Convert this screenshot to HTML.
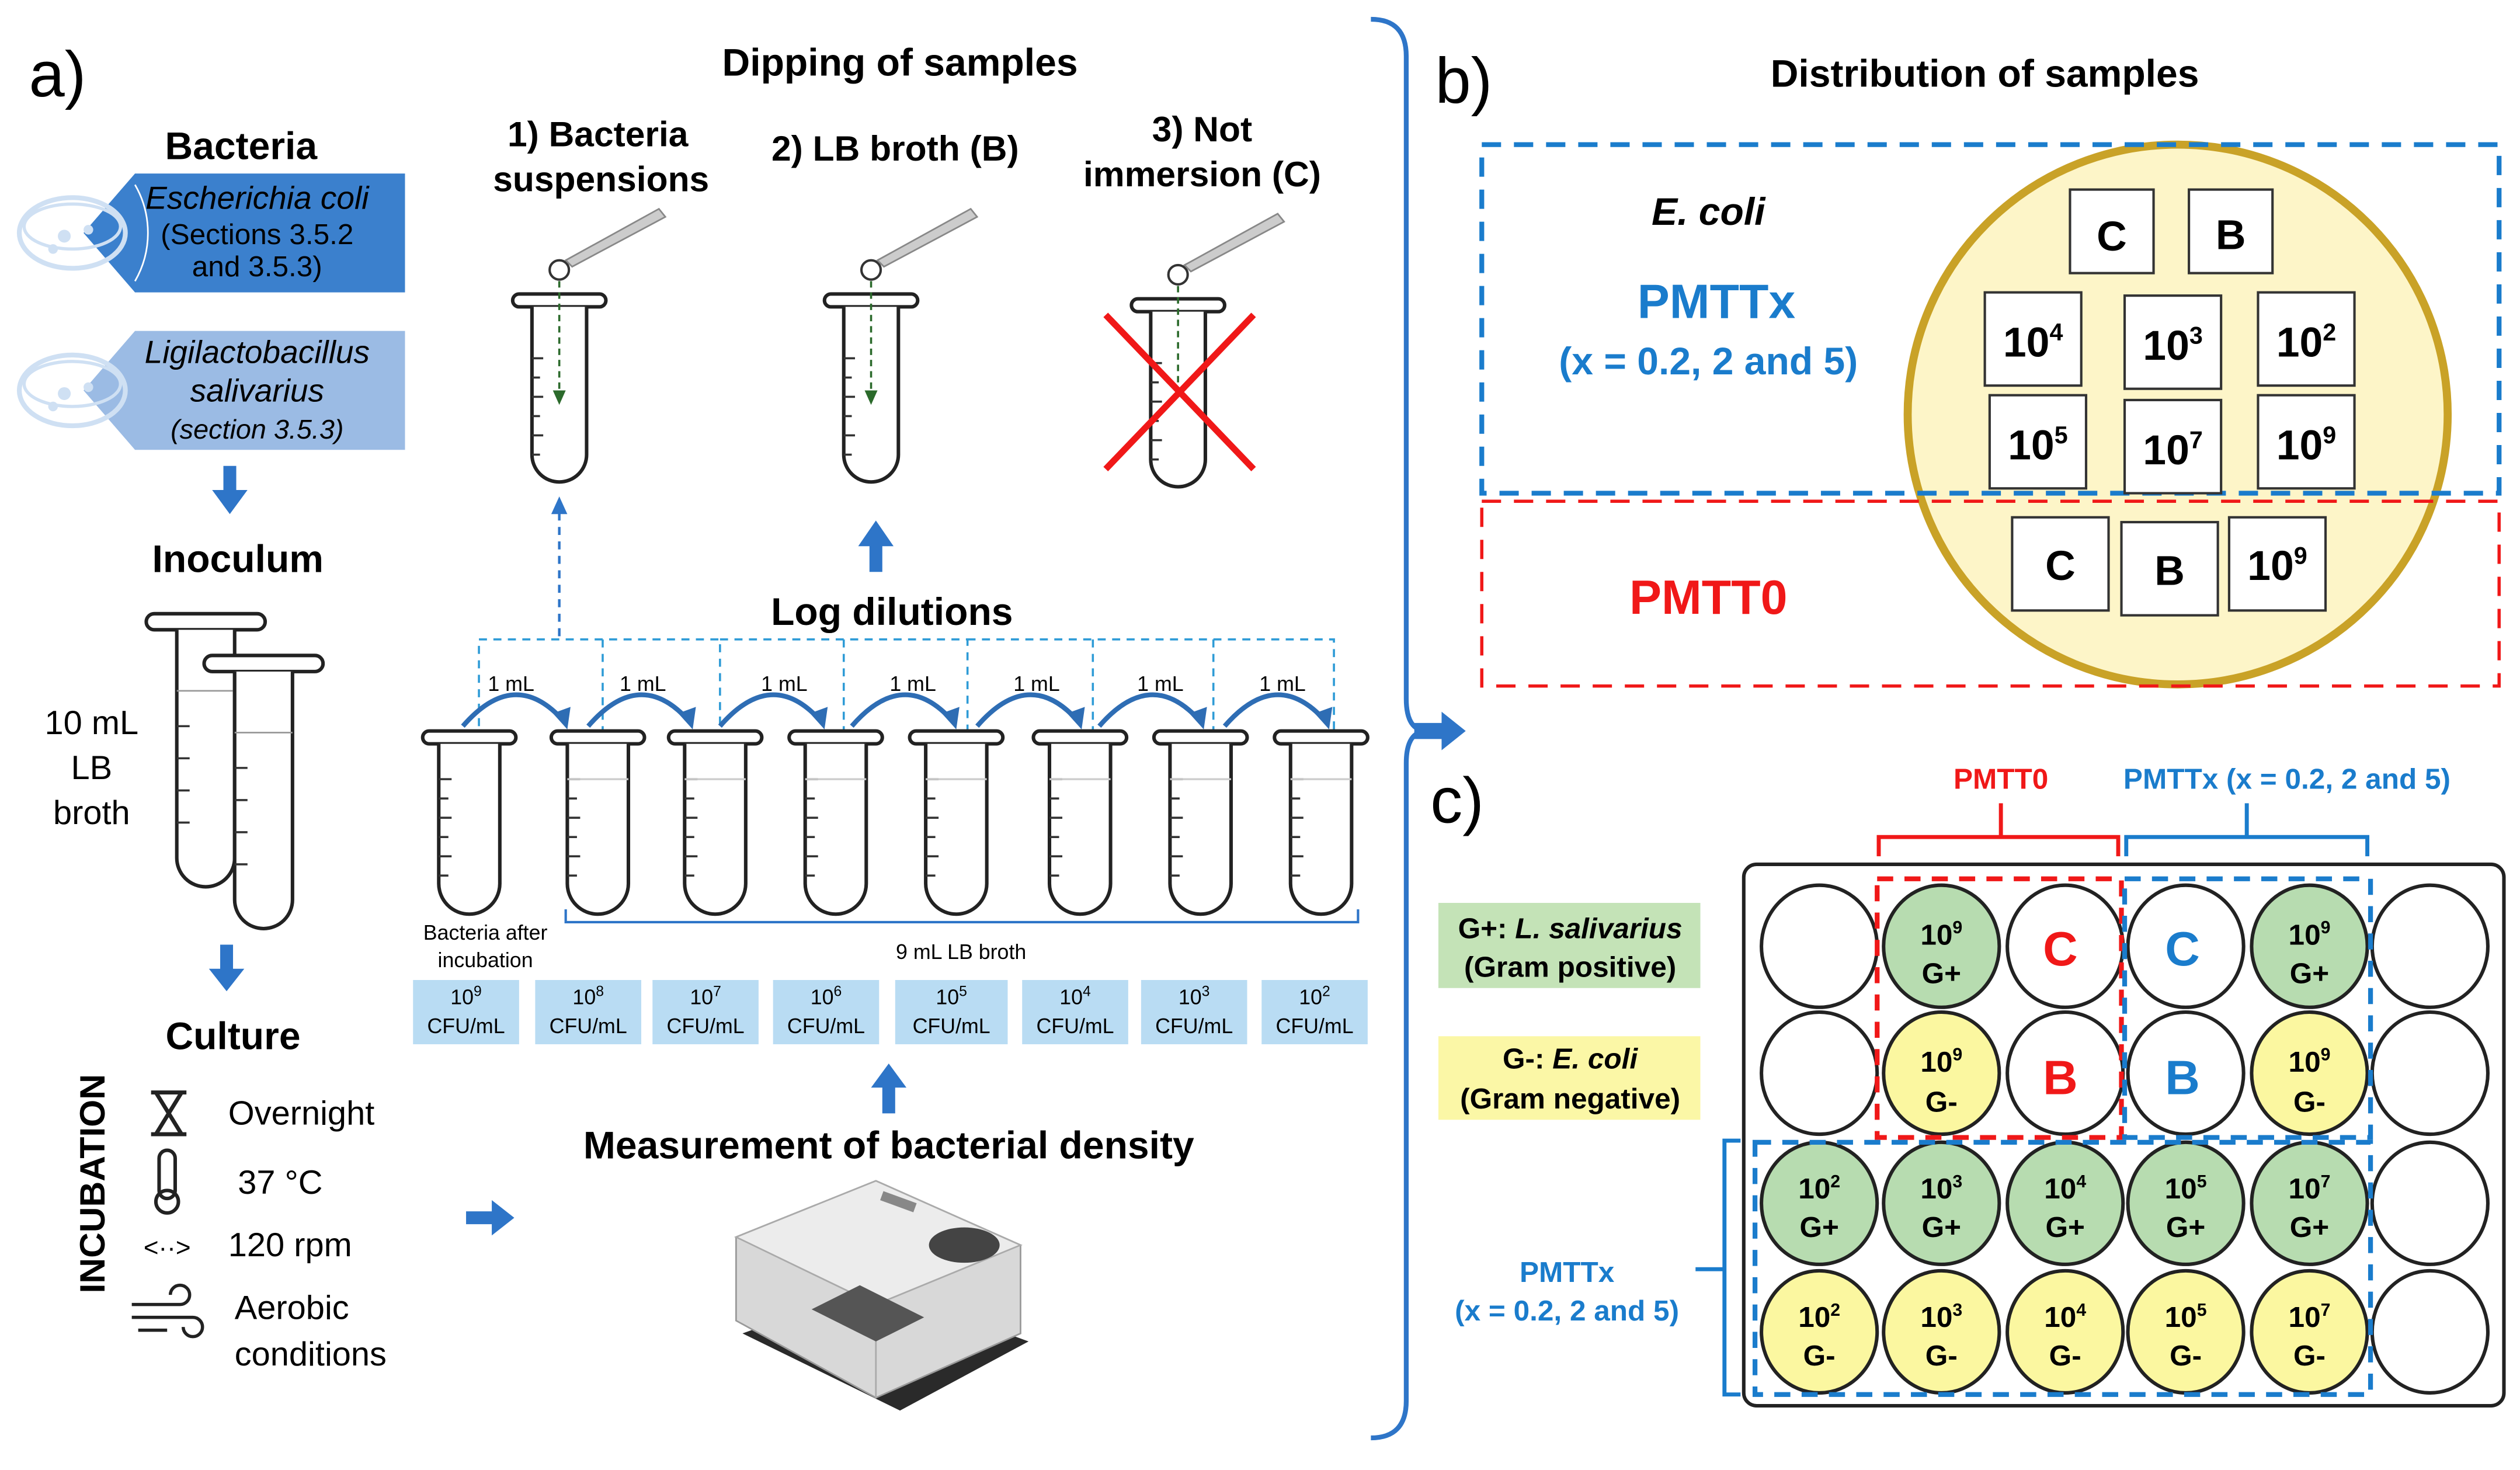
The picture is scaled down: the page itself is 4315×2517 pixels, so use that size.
<!DOCTYPE html>
<html><head><meta charset="utf-8"><style>
html,body{margin:0;padding:0;background:#fff}
svg{display:block}
text{font-family:"Liberation Sans",Arial,sans-serif}
</style></head><body>
<svg width="4315" height="2517" viewBox="0 0 1568 915" preserveAspectRatio="none" xmlns="http://www.w3.org/2000/svg">
<defs>
<g id="tube">
<rect x="-29" y="0" width="58" height="8" rx="4" fill="#fff" stroke="#222" stroke-width="2.2"/>
<path d="M-19 8 V95 A19 19 0 0 0 19 95 V8" fill="#fff" stroke="#222" stroke-width="2.2"/>
<g stroke="#333" stroke-width="1.3">
<line x1="-19" y1="30" x2="-11" y2="30"/><line x1="-19" y1="42" x2="-13" y2="42"/><line x1="-19" y1="54" x2="-11" y2="54"/><line x1="-19" y1="66" x2="-13" y2="66"/><line x1="-19" y1="78" x2="-11" y2="78"/><line x1="-19" y1="90" x2="-13" y2="90"/></g>
</g>
<g id="stube">
<rect x="-29" y="0" width="58" height="8" rx="4" fill="#fff" stroke="#222" stroke-width="2.2"/>
<path d="M-17 8 V100 A17 17 0 0 0 17 100 V8" fill="#fff" stroke="#222" stroke-width="2.2"/>
<g stroke="#333" stroke-width="1.3">
<line x1="-17" y1="40" x2="-10" y2="40"/><line x1="-17" y1="52" x2="-12" y2="52"/><line x1="-17" y1="64" x2="-10" y2="64"/><line x1="-17" y1="76" x2="-12" y2="76"/><line x1="-17" y1="88" x2="-10" y2="88"/><line x1="-17" y1="100" x2="-12" y2="100"/></g>
</g>
<g id="pip">
<circle cx="0" cy="0" r="6" fill="#fff" stroke="#333" stroke-width="1.5"/>
<path d="M4 -6 L62 -38 L66 -33 L8 -2 Z" fill="#ccc" stroke="#888" stroke-width="1"/>
</g>
<g id="dish">
<ellipse cx="40" cy="0" rx="33" ry="22" fill="none" stroke="#cfe0f3" stroke-width="3"/>
<ellipse cx="40" cy="-4" rx="30" ry="14" fill="none" stroke="#cfe0f3" stroke-width="2"/>
<circle cx="35" cy="2" r="4" fill="#cfe0f3"/><circle cx="50" cy="-2" r="3" fill="#cfe0f3"/><circle cx="28" cy="10" r="3" fill="#cfe0f3"/>
</g>
<marker id="ah" markerWidth="8" markerHeight="8" refX="4" refY="4" orient="auto"><path d="M0 0 L8 4 L0 8 Z" fill="#2e6db4"/></marker>
</defs>

<!-- a) -->
<text x="18" y="60" font-size="40">a)</text>
<text x="560" y="47" font-size="24" font-weight="bold" text-anchor="middle">Dipping  of samples</text>
<text x="150" y="99" font-size="24" font-weight="bold" text-anchor="middle">Bacteria</text>

<!-- banners -->
<path d="M84 108 H252 V182 H84 L52 145 Z" fill="#3b80cd"/>
<use href="#dish" x="5" y="145"/>
<path d="M84 115 A60 60 0 0 1 84 175" fill="none" stroke="#fff" stroke-width="1"/>
<text x="160" y="130" font-size="20" font-style="italic" text-anchor="middle">Escherichia coli</text>
<text x="160" y="152" font-size="18" text-anchor="middle">(Sections 3.5.2</text>
<text x="160" y="172" font-size="18" text-anchor="middle">and 3.5.3)</text>

<path d="M84 206 H252 V280 H84 L52 243 Z" fill="#9bbbe4"/>
<use href="#dish" x="5" y="243"/>
<text x="160" y="226" font-size="20" font-style="italic" text-anchor="middle">Ligilactobacillus</text>
<text x="160" y="250" font-size="20" font-style="italic" text-anchor="middle">salivarius</text>
<text x="160" y="273" font-size="17" font-style="italic" text-anchor="middle">(section 3.5.3)</text>

<path d="M139 290 H147 V305 H154 L143 320 L132 305 H139 Z" fill="#2e75c8"/>
<text x="148" y="356" font-size="24" font-weight="bold" text-anchor="middle">Inoculum</text>

<!-- inoculum tubes -->
<g transform="translate(128,382)"><rect x="-37" y="0" width="74" height="10" rx="5" fill="#fff" stroke="#222" stroke-width="2.2"/><path d="M-18 10 V152 A18 18 0 0 0 18 152 V10" fill="#fff" stroke="#222" stroke-width="2.2"/><line x1="-18" y1="48" x2="18" y2="48" stroke="#999"/><g stroke="#333" stroke-width="1.3"><line x1="-18" y1="70" x2="-10" y2="70"/><line x1="-18" y1="90" x2="-10" y2="90"/><line x1="-18" y1="110" x2="-10" y2="110"/><line x1="-18" y1="130" x2="-10" y2="130"/></g></g>
<g transform="translate(164,408)"><rect x="-37" y="0" width="74" height="10" rx="5" fill="#fff" stroke="#222" stroke-width="2.2"/><path d="M-18 10 V152 A18 18 0 0 0 18 152 V10" fill="#fff" stroke="#222" stroke-width="2.2"/><line x1="-18" y1="48" x2="18" y2="48" stroke="#999"/><g stroke="#333" stroke-width="1.3"><line x1="-18" y1="70" x2="-10" y2="70"/><line x1="-18" y1="90" x2="-10" y2="90"/><line x1="-18" y1="110" x2="-10" y2="110"/><line x1="-18" y1="130" x2="-10" y2="130"/></g></g>
<text x="57" y="457" font-size="21" text-anchor="middle">10 mL</text>
<text x="57" y="485" font-size="21" text-anchor="middle">LB</text>
<text x="57" y="513" font-size="21" text-anchor="middle">broth</text>

<path d="M137 588 H145 V603 H152 L141 617 L130 603 H137 Z" fill="#2e75c8"/>
<text x="145" y="653" font-size="24" font-weight="bold" text-anchor="middle">Culture</text>
<text transform="translate(65,805) rotate(-90)" font-size="22" font-weight="bold">INCUBATION</text>
<!-- icons -->
<path d="M94 680 H116 M94 706 H116 M97 680 L113 706 M113 680 L97 706" stroke="#222" stroke-width="2.5" fill="none"/>
<rect x="99" y="716" width="10" height="30" rx="5" fill="none" stroke="#222" stroke-width="2.2"/><circle cx="104" cy="748" r="7" fill="none" stroke="#222" stroke-width="2.2"/>
<text x="104" y="782" font-size="16" text-anchor="middle">&lt;··&gt;</text>
<path d="M82 812 H112 A6 6 0 1 0 106 806 M82 820 H120 A6 6 0 1 1 114 826 M86 828 H104" stroke="#222" stroke-width="2" fill="none"/>
<text x="142" y="700" font-size="21">Overnight</text>
<text x="148" y="743" font-size="21">37 °C</text>
<text x="142" y="782" font-size="21">120 rpm</text>
<text x="146" y="821" font-size="21">Aerobic</text>
<text x="146" y="850" font-size="21">conditions</text>
<path d="M290 754 H306 V747 L320 758 L306 769 V762 H290 Z" fill="#2e75c8"/>

<!-- dipping -->
<text x="372" y="91" font-size="22" font-weight="bold" text-anchor="middle">1) Bacteria</text>
<text x="374" y="119" font-size="22" font-weight="bold" text-anchor="middle">suspensions</text>
<text x="557" y="100" font-size="22" font-weight="bold" text-anchor="middle">2) LB broth (B)</text>
<text x="748" y="88" font-size="22" font-weight="bold" text-anchor="middle">3) Not</text>
<text x="748" y="116" font-size="22" font-weight="bold" text-anchor="middle">immersion (C)</text>
<use href="#stube" x="348" y="183"/><use href="#pip" x="348" y="168"/>
<use href="#stube" x="542" y="183"/><use href="#pip" x="542" y="168"/>
<use href="#stube" x="733" y="186"/><use href="#pip" x="733" y="171"/>
<line x1="348" y1="175" x2="348" y2="245" stroke="#2b6a2b" stroke-dasharray="4 3" stroke-width="1.3"/><path d="M344 243 L348 252 L352 243Z" fill="#2b6a2b"/>
<line x1="542" y1="175" x2="542" y2="245" stroke="#2b6a2b" stroke-dasharray="4 3" stroke-width="1.3"/><path d="M538 243 L542 252 L546 243Z" fill="#2b6a2b"/>
<line x1="733" y1="178" x2="733" y2="248" stroke="#2b6a2b" stroke-dasharray="4 3" stroke-width="1.3"/>
<path d="M688 196 L780 292 M780 196 L688 292" stroke="#f01818" stroke-width="4"/>
<line x1="348" y1="396" x2="348" y2="318" stroke="#2e75c8" stroke-width="1.6" stroke-dasharray="5 4"/><path d="M343 320 L348 309 L353 320Z" fill="#2e75c8"/>
<path d="M541 356 V340 H534 L545 324 L556 340 H549 V356 Z" fill="#2e75c8"/>

<text x="555" y="389" font-size="24" font-weight="bold" text-anchor="middle">Log dilutions</text>
<g stroke="#2e9bd6" stroke-width="1.3" stroke-dasharray="5 4" fill="none">
<path d="M298 470 V398 H448 V470"/><path d="M448 398 H602 V470"/><path d="M602 398 H755 V470"/><path d="M755 398 H830 V470"/>
<path d="M680 398 V470"/><path d="M375 398 V470"/><path d="M525 398 V470"/>
</g>
<use href="#tube" x="292" y="455"/><use href="#tube" x="372" y="455"/><use href="#tube" x="445" y="455"/><use href="#tube" x="520" y="455"/>
<use href="#tube" x="595" y="455"/><use href="#tube" x="672" y="455"/><use href="#tube" x="747" y="455"/><use href="#tube" x="822" y="455"/>
<g stroke="#ccc" stroke-width="1.2"><line x1="353" y1="485" x2="391" y2="485"/><line x1="426" y1="485" x2="464" y2="485"/><line x1="501" y1="485" x2="539" y2="485"/><line x1="576" y1="485" x2="614" y2="485"/><line x1="653" y1="485" x2="691" y2="485"/><line x1="728" y1="485" x2="766" y2="485"/><line x1="803" y1="485" x2="841" y2="485"/></g>
<g fill="none" stroke="#2e6db4" stroke-width="3">
<path d="M288 452 Q320 415 350 448"/><path d="M366 452 Q398 415 428 448"/><path d="M448 452 Q480 415 510 448"/><path d="M530 452 Q562 415 592 448"/><path d="M608 452 Q640 415 670 448"/><path d="M684 452 Q716 415 746 448"/><path d="M762 452 Q794 415 824 448"/>
</g>
<g fill="#2e6db4"><path d="M344 444 L353 454 L355 440Z"/><path d="M422 444 L431 454 L433 440Z"/><path d="M504 444 L513 454 L515 440Z"/><path d="M586 444 L595 454 L597 440Z"/><path d="M664 444 L673 454 L675 440Z"/><path d="M740 444 L749 454 L751 440Z"/><path d="M818 444 L827 454 L829 440Z"/></g>
<g font-size="13" text-anchor="middle"><text x="318" y="430">1 mL</text><text x="400" y="430">1 mL</text><text x="488" y="430">1 mL</text><text x="568" y="430">1 mL</text><text x="645" y="430">1 mL</text><text x="722" y="430">1 mL</text><text x="798" y="430">1 mL</text></g>
<text x="302" y="585" font-size="13" text-anchor="middle">Bacteria after</text>
<text x="302" y="602" font-size="13" text-anchor="middle">incubation</text>
<path d="M352 566 V574 H845 V566" fill="none" stroke="#2e75c8" stroke-width="1.5"/>
<text x="598" y="597" font-size="13" text-anchor="middle">9 mL LB broth</text>
<g fill="#b9dcf3">
<rect x="257" y="610" width="66" height="40"/><rect x="333" y="610" width="66" height="40"/><rect x="406" y="610" width="66" height="40"/><rect x="481" y="610" width="66" height="40"/><rect x="557" y="610" width="70" height="40"/><rect x="636" y="610" width="66" height="40"/><rect x="710" y="610" width="66" height="40"/><rect x="785" y="610" width="66" height="40"/></g>
<g font-size="13" text-anchor="middle">
<text x="290" y="625">10<tspan font-size="9" dy="-5">9</tspan></text><text x="290" y="643">CFU/mL</text>
<text x="366" y="625">10<tspan font-size="9" dy="-5">8</tspan></text><text x="366" y="643">CFU/mL</text>
<text x="439" y="625">10<tspan font-size="9" dy="-5">7</tspan></text><text x="439" y="643">CFU/mL</text>
<text x="514" y="625">10<tspan font-size="9" dy="-5">6</tspan></text><text x="514" y="643">CFU/mL</text>
<text x="592" y="625">10<tspan font-size="9" dy="-5">5</tspan></text><text x="592" y="643">CFU/mL</text>
<text x="669" y="625">10<tspan font-size="9" dy="-5">4</tspan></text><text x="669" y="643">CFU/mL</text>
<text x="743" y="625">10<tspan font-size="9" dy="-5">3</tspan></text><text x="743" y="643">CFU/mL</text>
<text x="818" y="625">10<tspan font-size="9" dy="-5">2</tspan></text><text x="818" y="643">CFU/mL</text>
</g>
<path d="M549 693 V677 H542 L553 662 L564 677 H557 V693 Z" fill="#2e75c8"/>
<text x="553" y="721" font-size="24" font-weight="bold" text-anchor="middle">Measurement of bacterial density</text>
<!-- plate reader -->
<path d="M462 830 L560 878 L640 835 L545 800 Z" fill="#2a2a2a"/>
<path d="M458 770 L545 735 L635 775 L635 830 L545 870 L458 822 Z" fill="#d8d8d8" stroke="#999"/>
<path d="M458 770 L545 812 L635 775 L545 735 Z" fill="#ececec" stroke="#aaa"/>
<path d="M545 812 L545 870" stroke="#aaa"/>
<ellipse cx="600" cy="775" rx="22" ry="11" fill="#444"/>
<path d="M505 815 L545 835 L575 820 L535 800 Z" fill="#555"/>
<rect x="548" y="745" width="22" height="6" fill="#888" transform="rotate(20 559 748)"/>

<!-- big bracket -->
<path d="M853 12 Q875 12 875 35 V435 Q875 455 888 455 Q875 455 875 475 V872 Q875 895 853 895" fill="none" stroke="#2e75c8" stroke-width="3"/>
<path d="M880 450 H897 V443 L912 455 L897 467 V460 H880 Z" fill="#2e75c8"/>

<!-- b) -->
<text x="893" y="64" font-size="40">b)</text>
<text x="1235" y="54" font-size="24" font-weight="bold" text-anchor="middle">Distribution  of samples</text>
<circle cx="1355" cy="258" r="168" fill="#fdf5c8" stroke="#c9a227" stroke-width="5"/>
<rect x="922" y="90" width="633" height="217" fill="none" stroke="#1a7ccc" stroke-width="3" stroke-dasharray="12 8"/>
<rect x="922" y="312" width="633" height="115" fill="none" stroke="#f01818" stroke-width="2" stroke-dasharray="12 8"/>
<text x="1063" y="140" font-size="24" font-weight="bold" font-style="italic" text-anchor="middle">E. coli</text>
<text x="1068" y="198" font-size="30" font-weight="bold" fill="#1a7ccc" text-anchor="middle">PMTTx</text>
<text x="1063" y="233" font-size="24" font-weight="bold" fill="#1a7ccc" text-anchor="middle">(x = 0.2, 2 and 5)</text>
<text x="1063" y="382" font-size="30" font-weight="bold" fill="#f01818" text-anchor="middle">PMTT0</text>
<g fill="#fff" stroke="#333" stroke-width="1.5">
<rect x="1288" y="118" width="52" height="52"/><rect x="1362" y="118" width="52" height="52"/>
<rect x="1235" y="182" width="60" height="58"/><rect x="1322" y="184" width="60" height="58"/><rect x="1405" y="182" width="60" height="58"/>
<rect x="1238" y="246" width="60" height="58"/><rect x="1322" y="249" width="60" height="58"/><rect x="1405" y="246" width="60" height="58"/>
<rect x="1252" y="322" width="60" height="58"/><rect x="1320" y="325" width="60" height="58"/><rect x="1387" y="322" width="60" height="58"/>
</g>
<g font-size="26" font-weight="bold" text-anchor="middle">
<text x="1314" y="156">C</text><text x="1388" y="155">B</text>
<text x="1265" y="222">10<tspan font-size="15" dy="-10">4</tspan></text>
<text x="1352" y="224">10<tspan font-size="15" dy="-10">3</tspan></text>
<text x="1435" y="222">10<tspan font-size="15" dy="-10">2</tspan></text>
<text x="1268" y="286">10<tspan font-size="15" dy="-10">5</tspan></text>
<text x="1352" y="289">10<tspan font-size="15" dy="-10">7</tspan></text>
<text x="1435" y="286">10<tspan font-size="15" dy="-10">9</tspan></text>
<text x="1282" y="361">C</text><text x="1350" y="364">B</text>
<text x="1417" y="361">10<tspan font-size="15" dy="-10">9</tspan></text>
</g>

<!-- c) -->
<text x="890" y="512" font-size="40">c)</text>
<text x="1245" y="491" font-size="18" font-weight="bold" fill="#f01818" text-anchor="middle">PMTT0</text>
<text x="1423" y="491" font-size="18" font-weight="bold" fill="#1a7ccc" text-anchor="middle">PMTTx (x = 0.2, 2 and 5)</text>
<path d="M1169 533 V521 H1318 V533 M1245 521 V500" fill="none" stroke="#f01818" stroke-width="2.5"/>
<path d="M1323 533 V521 H1473 V533 M1398 521 V500" fill="none" stroke="#1a7ccc" stroke-width="2.5"/>
<rect x="1085" y="538" width="473" height="337" rx="8" fill="#fff" stroke="#222" stroke-width="2.2"/>
<rect x="895" y="562" width="163" height="53" fill="#c4e3b7"/>
<rect x="895" y="645" width="163" height="52" fill="#fbf7a6"/>
<g font-size="18" font-weight="bold" text-anchor="middle">
<text x="977" y="584">G+: <tspan font-style="italic">L. salivarius</tspan></text><text x="977" y="608">(Gram positive)</text>
<text x="977" y="665">G-: <tspan font-style="italic">E. coli</tspan></text><text x="977" y="690">(Gram negative)</text>
</g>
<path d="M1083 710 H1073 V868 H1083 M1073 790 H1055" fill="none" stroke="#1a7ccc" stroke-width="2.5"/>
<text x="975" y="798" font-size="18" font-weight="bold" fill="#1a7ccc" text-anchor="middle">PMTTx</text>
<text x="975" y="822" font-size="18" font-weight="bold" fill="#1a7ccc" text-anchor="middle">(x = 0.2, 2 and 5)</text>

<g stroke="#222" stroke-width="2.2">
<ellipse cx="1132" cy="589" rx="36" ry="38" fill="#fff"/><ellipse cx="1208" cy="589" rx="36" ry="38" fill="#b7dcb0"/><ellipse cx="1285" cy="589" rx="36" ry="38" fill="#fff"/><ellipse cx="1360" cy="589" rx="36" ry="38" fill="#fff"/><ellipse cx="1437" cy="589" rx="36" ry="38" fill="#b7dcb0"/><ellipse cx="1512" cy="589" rx="36" ry="38" fill="#fff"/>
<ellipse cx="1132" cy="668" rx="36" ry="38" fill="#fff"/><ellipse cx="1208" cy="668" rx="36" ry="38" fill="#fbf7a0"/><ellipse cx="1285" cy="668" rx="36" ry="38" fill="#fff"/><ellipse cx="1360" cy="668" rx="36" ry="38" fill="#fff"/><ellipse cx="1437" cy="668" rx="36" ry="38" fill="#fbf7a0"/><ellipse cx="1512" cy="668" rx="36" ry="38" fill="#fff"/>
<ellipse cx="1132" cy="749" rx="36" ry="38" fill="#b7dcb0"/><ellipse cx="1208" cy="749" rx="36" ry="38" fill="#b7dcb0"/><ellipse cx="1285" cy="749" rx="36" ry="38" fill="#b7dcb0"/><ellipse cx="1360" cy="749" rx="36" ry="38" fill="#b7dcb0"/><ellipse cx="1437" cy="749" rx="36" ry="38" fill="#b7dcb0"/><ellipse cx="1512" cy="749" rx="36" ry="38" fill="#fff"/>
<ellipse cx="1132" cy="829" rx="36" ry="38" fill="#fbf7a0"/><ellipse cx="1208" cy="829" rx="36" ry="38" fill="#fbf7a0"/><ellipse cx="1285" cy="829" rx="36" ry="38" fill="#fbf7a0"/><ellipse cx="1360" cy="829" rx="36" ry="38" fill="#fbf7a0"/><ellipse cx="1437" cy="829" rx="36" ry="38" fill="#fbf7a0"/><ellipse cx="1512" cy="829" rx="36" ry="38" fill="#fff"/>
</g>
<rect x="1168" y="547" width="152" height="161" fill="none" stroke="#f01818" stroke-width="3" stroke-dasharray="10 7"/>
<rect x="1322" y="547" width="153" height="161" fill="none" stroke="#1a7ccc" stroke-width="3" stroke-dasharray="10 7"/>
<rect x="1092" y="711" width="383" height="157" fill="none" stroke="#1a7ccc" stroke-width="3" stroke-dasharray="10 7"/>
<g font-size="18" font-weight="bold" text-anchor="middle">
<text x="1208" y="588">10<tspan font-size="11" dy="-7">9</tspan></text><text x="1208" y="612" dy="0">G+</text>
<text x="1437" y="588">10<tspan font-size="11" dy="-7">9</tspan></text><text x="1437" y="612">G+</text>
<text x="1208" y="667">10<tspan font-size="11" dy="-7">9</tspan></text><text x="1208" y="692">G-</text>
<text x="1437" y="667">10<tspan font-size="11" dy="-7">9</tspan></text><text x="1437" y="692">G-</text>
<text x="1132" y="746">10<tspan font-size="11" dy="-7">2</tspan></text><text x="1132" y="770">G+</text>
<text x="1208" y="746">10<tspan font-size="11" dy="-7">3</tspan></text><text x="1208" y="770">G+</text>
<text x="1285" y="746">10<tspan font-size="11" dy="-7">4</tspan></text><text x="1285" y="770">G+</text>
<text x="1360" y="746">10<tspan font-size="11" dy="-7">5</tspan></text><text x="1360" y="770">G+</text>
<text x="1437" y="746">10<tspan font-size="11" dy="-7">7</tspan></text><text x="1437" y="770">G+</text>
<text x="1132" y="826">10<tspan font-size="11" dy="-7">2</tspan></text><text x="1132" y="850">G-</text>
<text x="1208" y="826">10<tspan font-size="11" dy="-7">3</tspan></text><text x="1208" y="850">G-</text>
<text x="1285" y="826">10<tspan font-size="11" dy="-7">4</tspan></text><text x="1285" y="850">G-</text>
<text x="1360" y="826">10<tspan font-size="11" dy="-7">5</tspan></text><text x="1360" y="850">G-</text>
<text x="1437" y="826">10<tspan font-size="11" dy="-7">7</tspan></text><text x="1437" y="850">G-</text>
</g>
<g font-size="30" font-weight="bold" text-anchor="middle">
<text x="1282" y="601" fill="#f01818">C</text><text x="1282" y="681" fill="#f01818">B</text>
<text x="1358" y="601" fill="#1a7ccc">C</text><text x="1358" y="681" fill="#1a7ccc">B</text>
</g>
</svg>
</body></html>
